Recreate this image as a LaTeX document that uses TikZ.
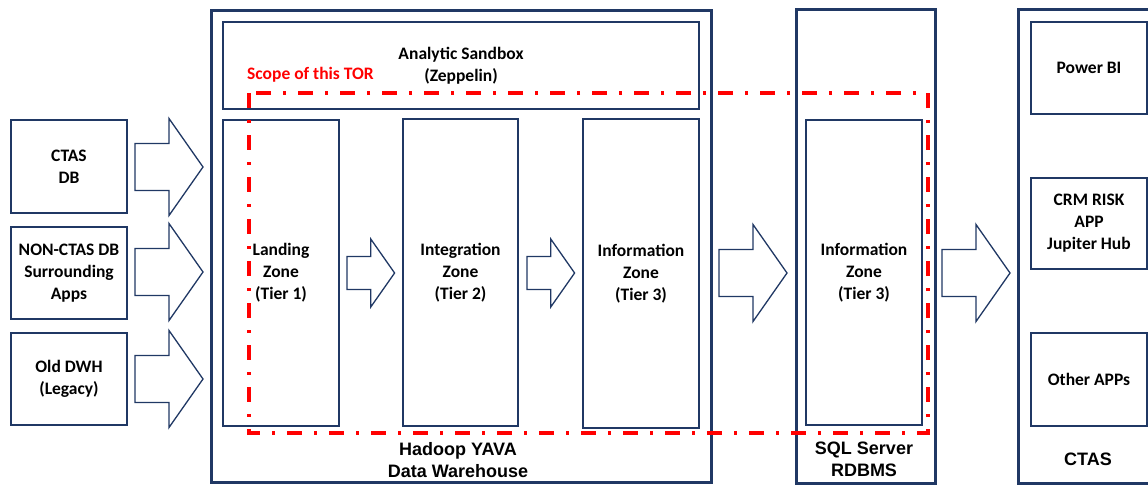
\documentclass[tikz,border=0pt]{standalone}
\usepackage{fontspec}
\setmainfont{Carlito}
\newfontfamily\arialfont{Liberation Sans}
\definecolor{navy}{RGB}{32,56,100}
\definecolor{scopered}{RGB}{255,0,0}
\begin{document}
\begin{tikzpicture}[x=1pt,y=-1pt,
        box/.style={draw=navy,line width=1.3pt,minimum width=116pt,inner sep=0pt,
            align=center,font=\bfseries\fontsize{17.5}{22}\selectfont},
        holder/.style={draw=navy,line width=3pt,inner sep=0pt},
        lbl/.style={align=center,inner sep=0pt,font=\arialfont\bfseries\fontsize{18}{22}\selectfont},
        scopeline/.style={draw=scopered,line width=3.5pt,dash pattern=on 15pt off 12pt on 3pt off 12pt},
        fatarrow/.pic={\draw[navy,line width=1.3pt,fill=white,line join=miter]
            (0,-23.5) -- (34,-23.5) -- (34,-48.5) -- (68,0) -- (34,48.5) -- (34,23.5) -- (0,23.5) -- cycle;}]
        \useasboundingbox (0,0) rectangle (1148,485);
        \clip (0,0) rectangle (1148,485);
        % sources
        \node[box,minimum height=93pt] (ctasdb) at (69,166.5) {CTAS\\DB};
        \node[box,minimum height=92pt] (nonctas) at (69,273) {NON-CTAS DB\\Surrounding\\Apps};
        \node[box,minimum height=92pt] (olddwh) at (69,379) {Old DWH\\(Legacy)};
        \pic at (135,167) {fatarrow};
        \pic at (135,272) {fatarrow};
        \pic at (135,379) {fatarrow};
        % hadoop
        \node[holder,minimum width=500pt,minimum height=472pt] (hadoop) at (461,246) {};
        \node[box,minimum width=476pt,minimum height=87pt] (sandbox) at (461,65.5) {Analytic Sandbox\\(Zeppelin)};
        \node[box,minimum height=306pt] (landing) at (281,273) {Landing\\Zone\\(Tier 1)};
        \node[box,minimum width=115pt,minimum height=307pt] (integration) at (460.5,272.5) {Integration\\Zone\\(Tier 2)};
        \node[box,minimum height=309pt] (information) at (641,273.5) {Information\\Zone\\(Tier 3)};
        \pic[scale=0.7] at (347,273) {fatarrow};
        \pic[scale=0.7] at (527,273) {fatarrow};
        \node[lbl] (hadooplbl) at (458,460) {Hadoop YAVA\\Data Warehouse};
        \pic at (719,273) {fatarrow};
        % sql server
        \node[holder,minimum width=139pt,minimum height=474pt] (sql) at (865.5,246) {};
        \node[box,minimum height=305pt] (sqlinfo) at (864,272.5) {Information\\Zone\\(Tier 3)};
        \node[lbl] (sqllbl) at (864,459) {SQL Server\\RDBMS};
        \pic at (942,273) {fatarrow};
        % ctas
        \node[holder,minimum width=142pt,minimum height=474pt] (ctas) at (1089,246) {};
        \node[box,minimum height=92pt] (powerbi) at (1089,68) {Power BI};
        \node[box,minimum height=91pt] (crm) at (1089,223.5) {CRM RISK\\APP\\Jupiter Hub};
        \node[box,minimum height=93pt] (otherapps) at (1089,379.5) {Other APPs};
        \node[lbl] (ctaslbl) at (1088,459) {CTAS};
        % scope of this TOR
        \draw[scopeline] (249,93) rectangle (928,433);
        \node[anchor=west,inner sep=0pt,text=scopered,font=\bfseries\fontsize{17.5}{20}\selectfont] (scopelbl) at (247,75) {Scope of this TOR};
    \end{tikzpicture}
\end{document}
